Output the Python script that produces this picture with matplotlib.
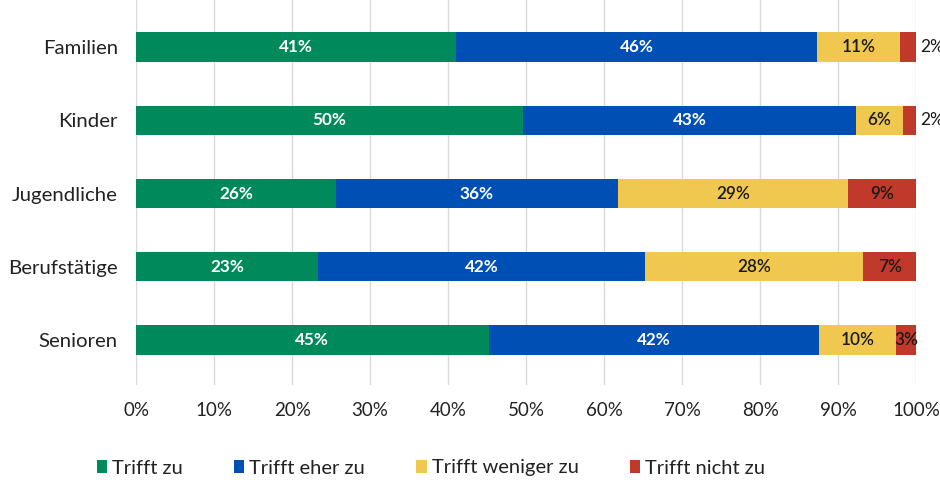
import matplotlib
matplotlib.use("Agg")
import numpy as np
from matplotlib import pyplot as plt

plt.rcParams["font.family"] = ["Lato", "DejaVu Sans"]

categories = ["Familien", "Kinder", "Jugendliche", "Berufstätige", "Senioren"]
series_names = ["Trifft zu", "Trifft eher zu", "Trifft weniger zu", "Trifft nicht zu"]
trifft_zu = [41.0, 49.6, 25.6, 23.3, 45.2]
trifft_eher_zu = [46.3, 42.7, 36.2, 42.0, 42.4]
trifft_weniger_zu = [10.6, 6.0, 29.4, 27.9, 9.8]
trifft_nicht_zu = [2.1, 1.7, 8.8, 6.8, 2.6]

colors = ["#00895A", "#004FB5", "#F0C74F", "#C0392B"]
label_colors = ["white", "white", "#1a1a1a", "#1a1a1a"]
label_weights = ["bold", "bold", "semibold", "semibold"]

series = [trifft_zu, trifft_eher_zu, trifft_weniger_zu, trifft_nicht_zu]

fig = plt.figure(figsize=(9.4, 4.8), dpi=100)
ax = fig.add_axes([0.1447, 0.198, 0.83, 0.802])

y = np.arange(len(categories))
left = np.zeros(len(categories))
for name, vals, col, lc, lw in zip(series_names, series, colors, label_colors, label_weights):
    vals = np.array(vals)
    ax.barh(y, vals, left=left, height=0.4, color=col, label=name, zorder=3)
    for yi, l, v in zip(y, left, vals):
        txt = f"{round(v):d}%"
        if v < 2.5:
            # small segments: label sits right of the bar
            ax.text(100.5, yi, txt, ha="left", va="center", fontsize=12.5,
                    color="#1a1a1a", clip_on=False)
        else:
            ax.text(l + v / 2, yi, txt, ha="center", va="center", fontsize=12.3,
                    color=lc, fontweight=lw, zorder=4)
    left = left + vals

ax.set_xlim(0, 100)
ax.set_ylim(4.614, -0.642)
ax.set_xticks(np.arange(0, 101, 10))
ax.set_xticklabels([f"{t}%" for t in range(0, 101, 10)])
ax.set_yticks(y)
ax.set_yticklabels(categories)
ax.tick_params(axis="both", length=0, colors="#222222")
ax.tick_params(axis="x", pad=12, labelsize=13.5)
ax.tick_params(axis="y", pad=13, labelsize=14.7)
ax.xaxis.grid(True, color="#d9d9d9", linewidth=1, zorder=0)
for s in ax.spines.values():
    s.set_visible(False)

fig.legend(loc="center", bbox_to_anchor=(0.4585, 0.025), ncol=4, frameon=False,
           fontsize=14.5, handlelength=0.5, handleheight=0.6, handletextpad=0.25,
           columnspacing=2.55, labelcolor="#222222")

fig.savefig("out.png", dpi=100)
